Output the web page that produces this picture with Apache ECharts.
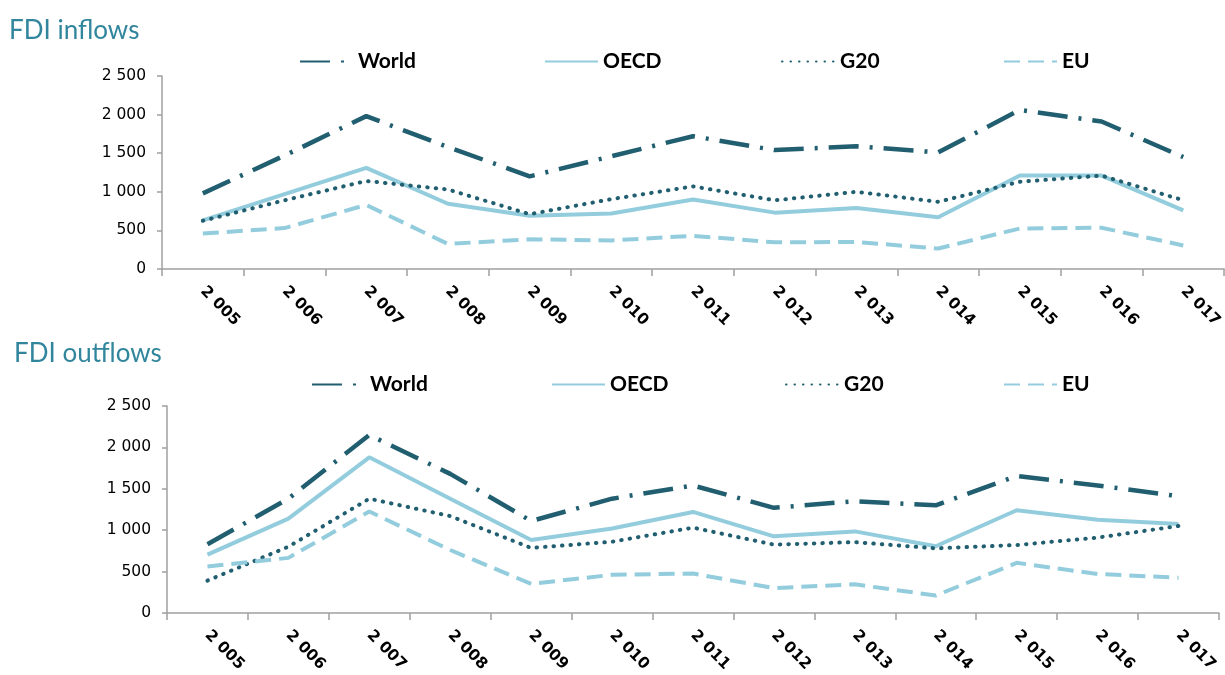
<!DOCTYPE html>
<html>
<head>
<meta charset="utf-8">
<script src="https://cdn.jsdelivr.net/npm/echarts@6/dist/echarts.min.js"></script>
<style>html,body{margin:0;padding:0;background:#fff;}#c{width:1225px;height:675px;}#err{position:absolute;left:200px;top:300px;color:red;font:14px sans-serif;}</style>
</head>
<body>
<div id="c"></div>
<div id="err"></div>
<script>
window.onerror = function(m){ document.getElementById('err').textContent += ' ' + m; };
const years = ['2 005','2 006','2 007','2 008','2 009','2 010','2 011','2 012','2 013','2 014','2 015','2 016','2 017'];
const seriesNames = ['World','OECD','G20','EU'];
const yTicks = [0, 500, 1000, 1500, 2000, 2500];

// FDI inflows (USD billion)
const inWorld = [980, 1470, 1980, 1580, 1200, 1460, 1720, 1540, 1590, 1510, 2060, 1910, 1450];
const inOECD  = [630, 970, 1310, 845, 690, 720, 900, 730, 790, 670, 1210, 1210, 760];
const inG20   = [625, 890, 1140, 1030, 710, 905, 1070, 890, 1000, 870, 1130, 1210, 890];
const inEU    = [460, 530, 830, 325, 385, 370, 430, 345, 350, 265, 525, 535, 305];

// FDI outflows (USD billion)
const outWorld = [830, 1380, 2150, 1680, 1110, 1380, 1540, 1270, 1350, 1300, 1655, 1540, 1410];
const outOECD  = [705, 1140, 1880, 1380, 880, 1020, 1220, 925, 985, 805, 1240, 1125, 1075];
const outG20   = [390, 800, 1380, 1170, 785, 860, 1030, 825, 855, 780, 820, 910, 1050];
const outEU    = [560, 665, 1225, 760, 350, 460, 475, 300, 345, 210, 605, 470, 425];

const DARK = '#215f70';
const LIGHT = '#93cddd';
const FONT = 'Lato';
const NUMFONT = 'DejaVu Sans';

const styles = {
  World: {color: DARK, width: 4.5, type: [30, 11, 3, 11], cap: 'butt'},
  OECD:  {color: LIGHT, width: 4, type: 'solid', cap: 'butt'},
  G20:   {color: DARK, width: 4, type: [0.5, 8], cap: 'round'},
  EU:    {color: LIGHT, width: 4, type: [16, 8], cap: 'butt'}
};

function fmt(v){
  if (v >= 1000) return Math.floor(v/1000) + ' ' + String(v % 1000).padStart(3,'0');
  return String(v);
}

const grids = [
  {left: 162, top: 76, width: 1072, height: 193},
  {left: 167, top: 406, width: 1052, height: 210}
];

function xAxis(i){
  return {
    type: 'category', gridIndex: i, data: years, boundaryGap: true,
    axisLine: {lineStyle: {color: '#a0a0a0', width: 1.5}},
    axisTick: {show: true, length: 7, lineStyle: {color: '#a0a0a0', width: 1.5}},
    axisLabel: {rotate: -45, margin: 20, fontFamily: NUMFONT, fontWeight: 'bold', fontSize: 15.5, color: '#000', interval: 0}
  };
}
function yAxis(i){
  return {
    type: 'value', gridIndex: i, min: yTicks[0], max: yTicks[yTicks.length-1], interval: yTicks[1]-yTicks[0],
    axisLine: {show: true, lineStyle: {color: '#a0a0a0', width: 1.5}},
    axisTick: {show: true, length: 5, lineStyle: {color: '#a0a0a0', width: 1.5}},
    splitLine: {show: false},
    axisLabel: {formatter: fmt, fontFamily: NUMFONT, fontSize: 15.5, color: '#000', margin: 16}
  };
}
function line(name, data, i){
  const s = styles[name];
  return {
    name: name, type: 'line', xAxisIndex: i, yAxisIndex: i, data: data,
    symbol: 'none', smooth: false, silent: true,
    lineStyle: {color: s.color, width: s.width, type: s.type, cap: s.cap},
    itemStyle: {color: s.color}
  };
}

const legendLefts = [[299, 544, 781, 1003], [311, 551, 785, 1003]];
const legendTops = [51, 374];
const legends = [];
[0,1].forEach(g => {
  seriesNames.forEach((n, k) => {
    legends.push({
      show: true, padding: 0, selectedMode: false,
      data: [n], left: legendLefts[g][k], top: legendTops[g],
      itemWidth: 53, itemHeight: 22, itemGap: 8,
      itemStyle: {opacity: 0},
      textStyle: {fontFamily: FONT, fontWeight: 'bold', fontSize: 21, color: '#000'}
    });
  });
});

const chart = echarts.init(document.getElementById('c'), null, {renderer: 'canvas'});
chart.setOption({
  animation: false,
  backgroundColor: '#fff',
  title: [
    {text: 'FDI inflows', left: 9, top: 18, padding: 0, textStyle: {fontFamily: FONT, fontSize: 26, fontWeight: 'normal', color: '#31869d'}},
    {text: 'FDI outflows', left: 14, top: 341, padding: 0, textStyle: {fontFamily: FONT, fontSize: 26, fontWeight: 'normal', color: '#31869d'}}
  ],
  legend: legends,
  grid: grids,
  xAxis: [xAxis(0), xAxis(1)],
  yAxis: [yAxis(0), yAxis(1)],
  series: [
    line('World', inWorld, 0), line('OECD', inOECD, 0), line('G20', inG20, 0), line('EU', inEU, 0),
    line('World', outWorld, 1), line('OECD', outOECD, 1), line('G20', outG20, 1), line('EU', outEU, 1)
  ]
});
</script>
</body>
</html>
